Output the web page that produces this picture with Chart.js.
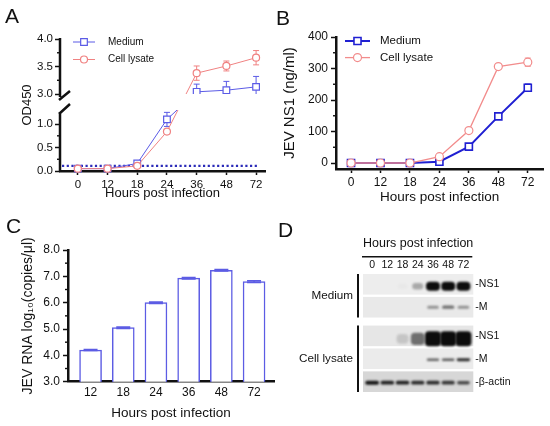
<!DOCTYPE html>
<html>
<head>
<meta charset="utf-8">
<title>JEV infection time course</title>
<script src="https://cdn.jsdelivr.net/npm/chart.js@4.4.1/dist/chart.umd.min.js"></script>
<style>
  html, body { margin: 0; padding: 0; background: #fff; }
  body { position: relative; width: 550px; height: 426px; overflow: hidden;
         font-family: "Liberation Sans", Arial, sans-serif; color: #111; }
  canvas { position: absolute; }
  .tag { position: absolute; font-size: 21px; line-height: 1; }
</style>
</head>
<body>
<canvas id="chartA" width="275" height="210" style="left:0;top:0"></canvas>
<canvas id="chartB" width="275" height="210" style="left:275px;top:0"></canvas>
<canvas id="chartC" width="275" height="216" style="left:0;top:210px"></canvas>
<canvas id="chartD" width="275" height="216" style="left:275px;top:210px"></canvas>
<div class="tag" style="left:5px;top:5px">A</div>
<div class="tag" style="left:276px;top:7px">B</div>
<div class="tag" style="left:6px;top:215px">C</div>
<div class="tag" style="left:278px;top:219px">D</div>
<script>
// ---------- data ----------
const hours = ['0', '12', '18', '24', '36', '48', '72'];
const seriesNames = ['Medium', 'Cell lysate'];

// A: OD450, broken y axis
const odMedium = [0.05, 0.05, 0.16, 1.10, 3.04, 3.07, 3.13];
const odMediumSd = [0.01, 0.01, 0.03, 0.15, 0.14, 0.16, 0.19];
const odLysate = [0.05, 0.05, 0.11, 0.84, 3.38, 3.51, 3.66];
const odLysateSd = [0.01, 0.01, 0.02, 0.04, 0.13, 0.09, 0.13];
const odCutoff = 0.11;
const odTicks = [0, 0.5, 1.0, 3.0, 3.5, 4.0];
const odMinorTicks = [0.25, 0.75, 3.25, 3.75];

// B: NS1 (ng/ml)
const ns1Medium = [0, 0, 0, 4, 52, 148, 239];
const ns1MediumSd = [0, 0, 0, 1, 3, 4, 12];
const ns1Lysate = [0, 0, 0, 20, 103, 306, 320];
const ns1LysateSd = [0, 0, 0, 2, 3, 4, 13];
const ns1Ticks = [0, 100, 200, 300, 400];
const ns1MinorTicks = [50, 150, 250, 350];

// C: viral RNA, log10 copies/ul
const rnaHours = ['12', '18', '24', '36', '48', '72'];
const rnaLog = [4.2, 5.05, 6.0, 6.93, 7.23, 6.8];
const rnaSd = [0.02, 0.03, 0.03, 0.03, 0.03, 0.03];
const rnaTicks = [3, 4, 5, 6, 7, 8];
const rnaMinorTicks = [3.5, 4.5, 5.5, 6.5, 7.5];

// D: western blot, band intensity 0..1 per lane
const blotRows = ['-NS1', '-M', '-NS1', '-M', '-β-actin'];
const blotGroups = ['Medium', 'Cell lysate'];
const blotGroupOfRow = [0, 0, 1, 1, 1];
const mediumNS1 = [0, 0, 0.02, 0.3, 1, 1, 1];
const mediumM = [0, 0, 0, 0, 0.4, 0.55, 0.4];
const lysateNS1 = [0, 0, 0.15, 0.55, 1, 1, 1];
const lysateM = [0, 0, 0, 0, 0.6, 0.65, 0.85];
const actinBand = [0.95, 0.9, 0.9, 0.85, 0.85, 0.8, 0.7];
const blotBands = [mediumNS1, mediumM, lysateNS1, lysateM, actinBand];

// ---------- styles ----------
const FONT = '"Liberation Sans", Arial, sans-serif';
Chart.defaults.font.family = FONT;
Chart.defaults.color = '#111';
const BLUE_A = '#5b5be6', RED_A = '#f08282';
const BLUE_B = '#2020d2', RED_B = '#f28c8c';
const BAR_C = '#5c5ce4';
const stripColors = ['#ededed', '#e9e9e9', '#e6e6e6', '#ebebeb', '#d7d7d7'];
const bandHeights = [9, 4, 15, 3, 4];
const bandWidths = [14, 14, 16, 14, 14];
const bandShift = [2, 0, 3, 1, 1];
const groupGap = 0.25;
const rowPos = r => r + blotGroupOfRow[r] * groupGap;

const atIndex = vals => vals.map((v, i) => ({x: i, y: v}));
const indexTicks = labels => s => { s.ticks = labels.map((_, i) => ({value: i})); };
const fixedTicks = values => s => { s.ticks = values.map(v => ({value: v})); };

// y scale with a gap between two linear segments
class BrokenScale extends Chart.LinearScale {
  getPixelForValue(value) {
    if (value === null || value === undefined || isNaN(value)) return NaN;
    const b = this.options.brk;
    let d;
    if (value <= b.lowMax) d = (value - this.min) / (b.lowMax - this.min) * b.lowFrac;
    else if (value >= b.upMin) d = b.upFrac + (value - b.upMin) / (this.max - b.upMin) * (1 - b.upFrac);
    else d = b.lowFrac + (value - b.lowMax) / (b.upMin - b.lowMax) * (b.upFrac - b.lowFrac);
    return this.getPixelForDecimal(d);
  }
}
BrokenScale.id = 'broken';
Chart.register(BrokenScale);

// ---------- plugins ----------
function drawErrors(chart) {
  const {ctx, scales: {x, y}} = chart;
  chart.data.datasets.forEach(ds => {
    if (!ds.errors) return;
    ctx.save();
    ctx.strokeStyle = ds.borderColor;
    ctx.lineWidth = ds.errorWidth || 1;
    const cap = ds.capWidth || 6;
    ds.data.forEach((pt, i) => {
      const e = ds.errors[i];
      if (!e) return;
      const px = x.getPixelForValue(pt.x);
      const hi = y.getPixelForValue(pt.y + e), lo = y.getPixelForValue(pt.y - e);
      ctx.beginPath();
      ctx.moveTo(px, hi); ctx.lineTo(px, lo);
      ctx.moveTo(px - cap / 2, hi); ctx.lineTo(px + cap / 2, hi);
      ctx.moveTo(px - cap / 2, lo); ctx.lineTo(px + cap / 2, lo);
      ctx.stroke();
    });
    ctx.restore();
  });
}
const errorBars = {
  id: 'errorBars',
  beforeDatasetsDraw(chart, args, o) { if (!o.onTop) drawErrors(chart); },
  afterDatasetsDraw(chart, args, o) { if (o.onTop) drawErrors(chart); }
};

const brokenAxis = {
  id: 'brokenAxis',
  beforeDatasetsDraw(chart) {
    const {ctx, scales: {y}} = chart;
    const b = y.options.brk;
    const upB = y.getPixelForDecimal(b.upFrac), loT = y.getPixelForDecimal(b.lowFrac);
    ctx.save();
    ctx.beginPath();
    ctx.rect(0, 0, chart.width, upB);
    ctx.rect(0, loT, chart.width, chart.height - loT);
    ctx.clip();
  },
  afterDatasetsDraw(chart) { chart.ctx.restore(); },
  afterDraw(chart) {
    const {ctx, chartArea: a, scales: {y}} = chart;
    const b = y.options.brk;
    const upB = y.getPixelForDecimal(b.upFrac), loT = y.getPixelForDecimal(b.lowFrac);
    const ax = a.left;
    ctx.save();
    ctx.strokeStyle = '#111';
    ctx.lineWidth = 2.5;
    ctx.beginPath();
    ctx.moveTo(ax, a.top - 1); ctx.lineTo(ax, upB + 3);
    ctx.moveTo(ax - 1, upB + 6); ctx.lineTo(ax + 10, upB - 3);
    ctx.moveTo(ax, a.bottom + 1); ctx.lineTo(ax, loT + 2);
    ctx.moveTo(ax - 1, loT + 4); ctx.lineTo(ax + 10, loT - 6);
    ctx.stroke();
    ctx.restore();
  }
};

const cutoffLine = {
  id: 'cutoffLine',
  beforeDatasetsDraw(chart, args, o) {
    const {ctx, chartArea: a, scales: {y}} = chart;
    const py = y.getPixelForValue(o.value);
    ctx.save();
    ctx.strokeStyle = o.color;
    ctx.lineWidth = 2.2;
    ctx.setLineDash([2.2, 2.5]);
    ctx.beginPath();
    ctx.moveTo(a.left + 2, py); ctx.lineTo(a.right - 6, py);
    ctx.stroke();
    ctx.restore();
  }
};

const minorTicks = {
  id: 'minorTicks',
  afterDraw(chart, args, o) {
    const {ctx, chartArea: a, scales: {y}} = chart;
    ctx.save();
    ctx.strokeStyle = '#111';
    ctx.lineWidth = 1.4;
    o.values.forEach(v => {
      const py = y.getPixelForValue(v);
      ctx.beginPath();
      ctx.moveTo(a.left - o.length, py); ctx.lineTo(a.left, py);
      ctx.stroke();
    });
    ctx.restore();
  }
};

const lineLegend = {
  id: 'lineLegend',
  afterDraw(chart, args, o) {
    const {ctx} = chart;
    chart.data.datasets.forEach((ds, i) => {
      const yy = o.y + i * o.rowGap, cx = o.x + o.length / 2;
      ctx.save();
      ctx.strokeStyle = ds.borderColor;
      ctx.lineWidth = ds.borderWidth;
      ctx.beginPath();
      ctx.moveTo(o.x, yy); ctx.lineTo(o.x + o.length, yy);
      ctx.stroke();
      ctx.fillStyle = '#fff';
      ctx.lineWidth = ds.pointBorderWidth;
      ctx.beginPath();
      if (ds.pointStyle === 'rect') {
        const h = ds.pointRadius * Math.SQRT1_2;
        ctx.rect(cx - h, yy - h, 2 * h, 2 * h);
      } else {
        ctx.arc(cx, yy, ds.pointRadius, 0, Math.PI * 2);
      }
      ctx.fill(); ctx.stroke();
      ctx.fillStyle = '#111';
      ctx.font = o.fontSize + 'px ' + FONT;
      ctx.textBaseline = 'middle';
      ctx.fillText(ds.label, o.textX, yy);
      ctx.restore();
    });
  }
};

const blot = {
  id: 'blot',
  afterDraw(chart) {
    const {ctx, chartArea: a, scales: {x, y}} = chart;
    const rowH = Math.abs(y.getPixelForValue(0.45) - y.getPixelForValue(-0.45));
    // strips and bands
    blotBands.forEach((row, r) => {
      const yc = y.getPixelForValue(rowPos(r));
      ctx.fillStyle = stripColors[r];
      ctx.fillRect(a.left, yc - rowH / 2, a.right - a.left, rowH);
      row.forEach((v, i) => {
        if (v <= 0) return;
        const xc = x.getPixelForValue(i);
        const w = bandWidths[r] * (0.7 + 0.3 * v), h = bandHeights[r] * (0.6 + 0.4 * v);
        ctx.save();
        ctx.filter = 'blur(1px)';
        ctx.fillStyle = 'rgba(12,12,12,' + v + ')';
        ctx.beginPath();
        ctx.roundRect(xc - w / 2, yc + bandShift[r] - h / 2, w, h, Math.min(h / 2, 4));
        ctx.fill();
        ctx.restore();
      });
    });
    // group brackets and names
    ctx.save();
    ctx.fillStyle = '#111';
    ctx.strokeStyle = '#111';
    ctx.lineWidth = 2;
    ctx.font = '11.7px ' + FONT;
    ctx.textAlign = 'right';
    ctx.textBaseline = 'middle';
    blotGroups.forEach((g, gi) => {
      const rows = blotGroupOfRow.map((gr, r) => gr === gi ? r : -1).filter(r => r >= 0);
      const top = y.getPixelForValue(rowPos(rows[0])) - rowH / 2;
      const bot = y.getPixelForValue(rowPos(rows[rows.length - 1])) + rowH / 2;
      ctx.beginPath();
      ctx.moveTo(a.left - 5, top); ctx.lineTo(a.left - 5, bot);
      ctx.stroke();
      ctx.fillText(g, a.left - 10, (top + bot) / 2);
    });
    // underline of the time header
    ctx.lineWidth = 1.5;
    ctx.beginPath();
    ctx.moveTo(a.left - 1, a.top - 17.3); ctx.lineTo(a.right - 1, a.top - 17.3);
    ctx.stroke();
    ctx.restore();
  }
};

const axisStyle = (tickLen) => ({
  grid: {drawOnChartArea: false, tickLength: tickLen, tickWidth: 1.5, tickColor: '#111'},
  border: {color: '#111', width: 2.5}
});

// ---------- A ----------
new Chart(document.getElementById('chartA'), {
  type: 'line',
  data: {
    datasets: [
      {label: seriesNames[0], data: atIndex(odMedium), errors: odMediumSd, borderColor: BLUE_A,
       borderWidth: 1, pointStyle: 'rect', pointRadius: 4.7, pointBorderWidth: 1.2,
       pointBorderColor: BLUE_A, pointBackgroundColor: '#fff', order: 1, clip: 8},
      {label: seriesNames[1], data: atIndex(odLysate), errors: odLysateSd, borderColor: RED_A,
       borderWidth: 1, pointStyle: 'circle', pointRadius: 3.5, pointBorderWidth: 1.2,
       pointBorderColor: RED_A, pointBackgroundColor: '#fff', order: 0, clip: 8}
    ]
  },
  options: {
    responsive: false, animation: false, events: [],
    layout: {padding: {left: 0, top: 39, right: 10, bottom: 0}},
    plugins: {
      legend: {display: false}, tooltip: {enabled: false},
      cutoffLine: {value: odCutoff, color: '#2b2bb8'},
      lineLegend: {x: 73, y: 42, rowGap: 17.5, length: 22, textX: 108, fontSize: 10},
      minorTicks: {values: odMinorTicks, length: 3}
    },
    scales: {
      x: {type: 'linear', min: -0.6, max: 6.3, bounds: 'data', ...axisStyle(4),
          afterBuildTicks: indexTicks(hours), afterFit: s => { s.height = 39; },
          ticks: {autoSkip: false, maxRotation: 0, padding: 3, font: {size: 11.5}, callback: v => hours[v]},
          title: {display: true, text: 'Hours post infection', font: {size: 13}, color: '#111',
                  padding: {top: 9, bottom: 9}}},
      y: {type: 'broken', min: 0, max: 4, bounds: 'data',
          brk: {lowMax: 1.3, lowFrac: 0.462, upMin: 3.0, upFrac: 0.583},
          grid: {drawOnChartArea: false, tickLength: 5, tickWidth: 1.5, tickColor: '#111'},
          border: {display: false},
          afterBuildTicks: fixedTicks(odTicks), afterFit: s => { s.width = 60; },
          ticks: {autoSkip: false, padding: 2, font: {size: 11.5}, callback: v => v.toFixed(1)},
          title: {display: true, text: 'OD450', font: {size: 13}, color: '#111',
                  padding: {top: 20, bottom: 0}}}
    }
  },
  plugins: [brokenAxis, cutoffLine, errorBars, lineLegend, minorTicks]
});

// ---------- B ----------
new Chart(document.getElementById('chartB'), {
  type: 'line',
  data: {
    datasets: [
      {label: seriesNames[0], data: atIndex(ns1Medium), errors: ns1MediumSd, borderColor: BLUE_B,
       borderWidth: 2, pointStyle: 'rect', pointRadius: 5, pointBorderWidth: 1.6,
       pointBorderColor: BLUE_B, pointBackgroundColor: '#fff', order: 1, clip: 8},
      {label: seriesNames[1], data: atIndex(ns1Lysate), errors: ns1LysateSd, borderColor: RED_B,
       borderWidth: 1.3, pointStyle: 'circle', pointRadius: 4, pointBorderWidth: 1.2,
       pointBorderColor: RED_B, pointBackgroundColor: '#fff', order: 0, clip: 8}
    ]
  },
  options: {
    responsive: false, animation: false, events: [],
    layout: {padding: {left: 0, top: 37, right: 6, bottom: 0}},
    plugins: {
      legend: {display: false}, tooltip: {enabled: false},
      lineLegend: {x: 70, y: 41, rowGap: 16.6, length: 25, textX: 105, fontSize: 11.5},
      minorTicks: {values: ns1MinorTicks, length: 3}
    },
    scales: {
      x: {type: 'linear', min: -0.51, max: 6.53, bounds: 'data', ...axisStyle(4),
          afterBuildTicks: indexTicks(hours), afterFit: s => { s.height = 41; },
          ticks: {autoSkip: false, maxRotation: 0, padding: 2, font: {size: 12}, callback: v => hours[v]},
          title: {display: true, text: 'Hours post infection', font: {size: 13.5}, color: '#111',
                  padding: {top: 5, bottom: 5}}},
      y: {type: 'linear', min: -19, max: 400, bounds: 'data', ...axisStyle(5),
          afterBuildTicks: fixedTicks(ns1Ticks), afterFit: s => { s.width = 61; },
          ticks: {autoSkip: false, padding: 3, font: {size: 12}},
          title: {display: true, text: 'JEV NS1 (ng/ml)', font: {size: 15}, color: '#111',
                  padding: {top: 6, bottom: 0}}}
    }
  },
  plugins: [errorBars, lineLegend, minorTicks]
});

// ---------- C ----------
new Chart(document.getElementById('chartC'), {
  type: 'bar',
  data: {
    datasets: [
      {label: 'JEV RNA', data: atIndex(rnaLog), errors: rnaSd, backgroundColor: '#fff',
       borderColor: BAR_C, borderWidth: 1.5, barThickness: 22, capWidth: 14, errorWidth: 1.5}
    ]
  },
  options: {
    responsive: false, animation: false, events: [],
    layout: {padding: {left: 0, top: 40, right: 1, bottom: 0}},
    plugins: {
      legend: {display: false}, tooltip: {enabled: false},
      errorBars: {onTop: true},
      minorTicks: {values: rnaMinorTicks, length: 3}
    },
    scales: {
      x: {type: 'linear', min: -0.69, max: 5.61, bounds: 'data', offset: false,
          grid: {display: false, drawTicks: false}, border: {color: '#111', width: 2.5},
          afterBuildTicks: indexTicks(rnaHours), afterFit: s => { s.height = 44.3; },
          ticks: {autoSkip: false, maxRotation: 0, padding: 4, font: {size: 12}, callback: v => rnaHours[v]},
          title: {display: true, text: 'Hours post infection', font: {size: 13.5}, color: '#111',
                  padding: {top: 4.6, bottom: 4.6}}},
      y: {type: 'linear', min: 3, max: 8, bounds: 'data', ...axisStyle(5),
          afterBuildTicks: fixedTicks(rnaTicks), afterFit: s => { s.width = 68; },
          ticks: {autoSkip: false, padding: 3, font: {size: 12}, callback: v => v.toFixed(1)},
          title: {display: true, text: 'JEV RNA log₁₀(copies/μl)', font: {size: 14}, color: '#111',
                  padding: {top: 20, bottom: 0}}}
    }
  },
  plugins: [errorBars, minorTicks]
});

// ---------- D ----------
new Chart(document.getElementById('chartD'), {
  type: 'scatter',
  data: {datasets: []},
  options: {
    responsive: false, animation: false, events: [],
    layout: {padding: {left: 88, top: 0, right: 0, bottom: 34}},
    plugins: {legend: {display: false}, tooltip: {enabled: false}},
    scales: {
      x: {type: 'linear', position: 'top', min: -0.6, max: 6.65, bounds: 'data',
          grid: {display: false, drawTicks: false}, border: {display: false},
          afterBuildTicks: indexTicks(hours), afterFit: s => { s.height = 64; },
          ticks: {autoSkip: false, maxRotation: 0, padding: 3, font: {size: 10.5}, callback: v => hours[v]},
          title: {display: true, text: 'Hours post infection', font: {size: 13}, color: '#111',
                  padding: {top: 26, bottom: 0}}},
      y: {type: 'linear', position: 'right', reverse: true, min: -0.45, max: 4.7, bounds: 'data',
          grid: {display: false, drawTicks: false}, border: {display: false},
          afterBuildTicks: s => { s.ticks = blotRows.map((_, r) => ({value: rowPos(r)})); },
          afterFit: s => { s.width = 76.7; },
          ticks: {autoSkip: false, padding: 2, font: {size: 10.5}, callback: (v, i) => blotRows[i]}}
    }
  },
  plugins: [blot]
});
</script>
</body>
</html>
